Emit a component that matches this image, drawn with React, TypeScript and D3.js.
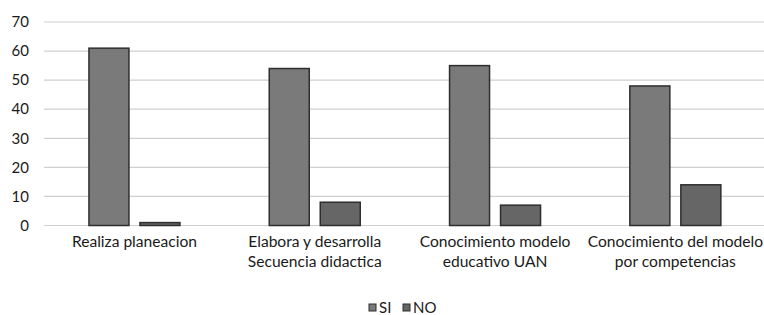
import React from "react";
import * as d3 from "d3";

const categories: string[][] = [
  ["Realiza planeacion"],
  ["Elabora y desarrolla", "Secuencia didactica"],
  ["Conocimiento modelo", "educativo UAN"],
  ["Conocimiento del modelo", "por competencias"],
];
const seriesNames = ["SI", "NO"];
const siValues = [61, 54, 55, 48];
const noValues = [1, 8, 7, 14];
const yTicks = [0, 10, 20, 30, 40, 50, 60, 70];

const W = 764;
const H = 315;
const FONT = "Lato, 'Liberation Sans', sans-serif";
const colors = ["#7a7a7a", "#666666"];

export default function App() {
  const x = d3.scaleBand<number>().domain(d3.range(categories.length)).range([44.3, 765.5]);
  const y = d3.scaleLinear().domain([0, 70]).range([225.5, 22]);
  const barW = 40;
  const gap = 11;
  const groupW = barW * 2 + gap;
  const series = [siValues, noValues];

  return (
    <svg width={W} height={H} style={{ position: "absolute", left: 0, top: 0 }} fontFamily={FONT}>
      <rect width={W} height={H} fill="#ffffff" />
      {yTicks.map((t) => (
        <g key={t}>
          <line x1={44} x2={764} y1={y(t)} y2={y(t)} stroke="#cfcfcf" strokeWidth={1.2} />
          <text x={29} y={y(t)} dy="0.35em" textAnchor="end" fontSize={15} fill="#1a1a1a">
            {t}
          </text>
        </g>
      ))}
      {categories.map((c, i) => {
        const cx = (x(i) as number) + x.bandwidth() / 2;
        const start = cx - groupW / 2;
        return (
          <g key={i}>
            {series.map((s, j) => (
              <rect
                key={j}
                x={start + j * (barW + gap)}
                y={y(s[i])}
                width={barW}
                height={y(0) - y(s[i])}
                fill={colors[j]}
                stroke="#2e2e2e"
                strokeWidth={1.5}
              />
            ))}
            {c.map((line, k) => (
              <text key={k} x={cx} y={247 + k * 20} textAnchor="middle" fontSize={15.6} fill="#1a1a1a">
                {line}
              </text>
            ))}
          </g>
        );
      })}
      <g>
        {seriesNames.map((n, j) => {
          const lx = [369, 403][j];
          return (
            <g key={n}>
              <rect x={lx} y={304} width={7} height={7} fill={colors[j]} stroke="#2e2e2e" strokeWidth={1} />
              <text x={lx + 10} y={308} dy="0.35em" fontSize={15} fill="#1a1a1a">
                {n}
              </text>
            </g>
          );
        })}
      </g>
    </svg>
  );
}
